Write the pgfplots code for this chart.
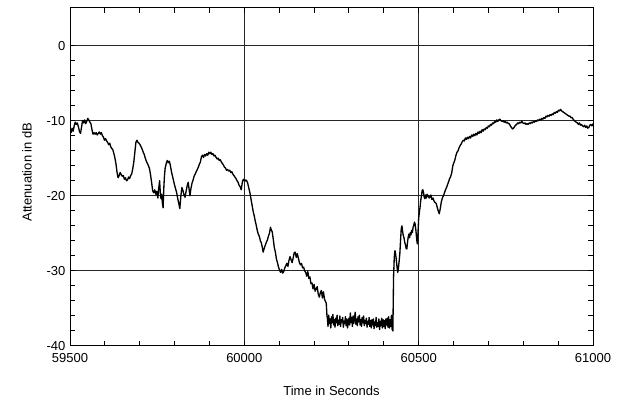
\documentclass[border=0pt]{standalone}
\usepackage{pgfplots}
\pgfplotsset{compat=1.18}
\usepackage{fontspec}
\setmainfont{Liberation Sans}
\begin{document}
\begin{tikzpicture}
\path[use as bounding box] (-52.5pt,-39pt) rectangle (415.5pt,259.5pt);
\begin{axis}[
  at={(0pt,0pt)}, anchor=south west,
  scale only axis, width=392.25pt, height=253.5pt,
  xmin=59500, xmax=61000, ymin=-40, ymax=5,
  scaled x ticks=false, scaled y ticks=false,
  xtick={59500,60000,60500,61000}, xticklabels={59500,60000,60500,61000},
  ytick={-40,-30,-20,-10,0}, yticklabels={-40,-30,-20,-10,0},
  minor xtick={59600,59700,59800,59900,60100,60200,60300,60400,60600,60700,60800,60900},
  minor ytick={-38,-36,-34,-32,-28,-26,-24,-22,-18,-16,-14,-12,-8,-6,-4,-2},
  tick align=inside,
  major tick length=3.75pt, minor tick length=3.75pt,
  grid=major,
  major grid style={black!85, line width=0.75pt},
  axis line style={black, line width=0.75pt},
  every tick/.style={black, line width=0.75pt},
  font=\fontsize{9.75}{11.7}\selectfont,
  tick label style={font=\fontsize{9.75}{11.7}\selectfont},
  label style={font=\fontsize{9.75}{11.7}\selectfont},
  xticklabel style={anchor=base, yshift=-12.5pt},
  yticklabel style={anchor=east},
  xlabel={Time in Seconds}, ylabel={Attenuation in dB},
  xlabel style={at={(axis description cs:0.5,-0.145)}, anchor=base},
  ylabel style={at={(axis description cs:-0.0733,0.515)}, anchor=base},
]
\addplot[black, line width=1pt, no marks, line join=round] coordinates {
(59500,-11.2) (59503,-11.6) (59506,-11.0) (59509,-11.4) (59512,-10.7) (59515,-10.2)
(59518,-10.5) (59521,-10.3) (59524,-10.8) (59527,-11.4) (59530,-11.7) (59533,-10.9)
(59536,-10.0) (59539,-10.3) (59542,-9.9) (59545,-10.4) (59548,-10.1) (59551,-9.7)
(59554,-9.9) (59557,-10.2) (59560,-10.4) (59563,-11.2) (59566,-11.8) (59569,-11.6)
(59572,-11.8) (59575,-11.6) (59578,-11.9) (59581,-11.7) (59584,-11.5) (59587,-11.8)
(59590,-11.6) (59593,-12.0) (59596,-12.2) (59599,-12.6) (59602,-12.4) (59605,-12.7)
(59608,-12.9) (59611,-13.2) (59614,-13.0) (59617,-13.5) (59620,-13.7) (59623,-13.9)
(59626,-14.4) (59629,-15.0) (59632,-15.8) (59635,-16.9) (59638,-17.6) (59641,-17.3)
(59644,-16.9) (59647,-17.2) (59650,-17.4) (59653,-17.3) (59656,-17.8) (59659,-17.6)
(59662,-18.0) (59665,-17.9) (59668,-17.5) (59671,-17.7) (59674,-17.3) (59677,-17.1)
(59680,-16.4) (59683,-15.5) (59686,-14.2) (59689,-12.9) (59692,-12.6) (59695,-12.9)
(59698,-13.0) (59701,-13.2) (59704,-13.5) (59707,-13.8) (59710,-14.2) (59713,-14.5)
(59716,-15.0) (59719,-15.4) (59722,-15.7) (59725,-16.0) (59728,-16.4) (59731,-17.2)
(59734,-18.2) (59737,-19.3) (59740,-19.6) (59743,-19.2) (59746,-19.8) (59749,-19.4)
(59752,-20.3) (59754,-19.2) (59757,-18.0) (59759,-19.6) (59761,-20.4) (59763,-19.8)
(59765,-21.0) (59767,-21.6) (59769,-19.0) (59771,-17.3) (59773,-16.3) (59776,-15.7)
(59779,-15.3) (59782,-15.6) (59785,-15.4) (59788,-16.0) (59791,-16.8) (59794,-17.4)
(59797,-18.0) (59800,-18.6) (59803,-19.1) (59806,-19.6) (59809,-20.4) (59812,-21.0)
(59815,-21.7) (59818,-20.0) (59821,-18.9) (59824,-19.3) (59827,-19.9) (59830,-20.2)
(59833,-19.4) (59836,-18.7) (59839,-18.2) (59842,-19.3) (59844,-20.0) (59847,-19.0)
(59850,-18.3) (59853,-17.9) (59856,-17.4) (59859,-17.1) (59862,-16.8) (59865,-16.5)
(59868,-16.2) (59871,-15.8) (59874,-15.5) (59877,-14.8) (59880,-14.6) (59883,-14.9)
(59886,-14.5) (59889,-14.7) (59892,-14.4) (59895,-14.6) (59898,-14.2) (59901,-14.4)
(59904,-14.2) (59907,-14.5) (59910,-14.4) (59913,-14.7) (59916,-14.6) (59919,-14.9)
(59922,-15.1) (59925,-15.0) (59928,-15.3) (59931,-15.2) (59934,-15.5) (59937,-15.7)
(59940,-15.9) (59943,-16.2) (59946,-16.3) (59949,-16.6) (59952,-16.5) (59955,-16.7)
(59958,-16.6) (59961,-16.9) (59964,-16.8) (59967,-17.1) (59970,-17.3) (59973,-17.5)
(59976,-17.7) (59979,-18.0) (59982,-18.2) (59985,-18.6) (59988,-18.8) (59991,-19.2)
(59993,-18.6) (59995,-18.0) (59998,-17.8) (60001,-18.1) (60004,-17.9) (60007,-18.0)
(60010,-18.4) (60013,-19.0) (60016,-19.6) (60019,-20.4) (60022,-21.2) (60025,-22.0)
(60028,-22.6) (60031,-23.3) (60034,-23.9) (60037,-24.6) (60040,-25.1) (60043,-25.4)
(60046,-26.0) (60049,-26.3) (60052,-27.0) (60054,-27.5) (60057,-27.0) (60060,-26.6)
(60063,-26.2) (60066,-25.9) (60069,-25.4) (60072,-25.0) (60075,-24.2) (60077,-24.5)
(60080,-24.8) (60083,-25.8) (60086,-26.9) (60089,-27.5) (60092,-28.4) (60095,-28.9)
(60098,-29.5) (60101,-29.9) (60104,-30.2) (60107,-29.8) (60110,-30.3) (60113,-30.1)
(60116,-29.6) (60119,-29.3) (60122,-29.0) (60125,-29.4) (60128,-28.6) (60131,-28.1)
(60134,-28.5) (60137,-28.9) (60140,-28.3) (60143,-27.6) (60146,-27.5) (60149,-28.2)
(60152,-27.7) (60155,-28.3) (60158,-28.9) (60161,-29.2) (60164,-29.0) (60167,-29.6)
(60170,-29.5) (60173,-30.0) (60176,-30.2) (60179,-30.7) (60182,-30.1) (60185,-31.0)
(60188,-30.8) (60191,-31.7) (60194,-31.6) (60197,-32.4) (60200,-31.8) (60203,-32.7)
(60206,-32.4) (60209,-32.1) (60212,-33.1) (60215,-33.5) (60218,-32.9) (60221,-32.6)
(60224,-33.6) (60227,-32.8) (60230,-33.8) (60233,-34.1) (60235,-34.3) (60237,-36.0)
(60238,-36.2) (60240,-37.4) (60242,-35.9) (60244,-37.0) (60246,-36.4) (60248,-37.6)
(60250,-36.1) (60252,-36.9) (60254,-35.8) (60256,-37.2) (60258,-36.5) (60260,-37.5)
(60262,-36.3) (60264,-36.9) (60266,-35.9) (60268,-37.3) (60270,-36.6) (60272,-37.1)
(60274,-36.0) (60276,-37.4) (60278,-36.5) (60280,-36.8) (60282,-36.2) (60284,-37.5)
(60286,-36.7) (60288,-37.0) (60290,-36.1) (60292,-37.3) (60294,-36.4) (60296,-37.6)
(60298,-36.8) (60300,-36.3) (60302,-37.2) (60304,-35.6) (60306,-36.9) (60308,-36.2)
(60310,-37.4) (60312,-36.0) (60314,-37.0) (60316,-36.3) (60318,-35.5) (60320,-37.1)
(60322,-36.4) (60324,-37.3) (60326,-36.1) (60328,-36.8) (60330,-35.9) (60332,-37.2)
(60334,-36.5) (60336,-37.4) (60338,-36.2) (60340,-36.9) (60342,-36.0) (60344,-37.3)
(60346,-36.6) (60348,-37.0) (60350,-36.3) (60352,-37.5) (60354,-36.7) (60356,-37.1)
(60358,-36.2) (60360,-37.4) (60362,-36.6) (60364,-37.6) (60366,-36.5) (60368,-37.2)
(60370,-36.4) (60372,-37.7) (60374,-36.8) (60376,-37.3) (60378,-36.2) (60380,-37.5)
(60382,-36.9) (60384,-37.4) (60386,-36.4) (60388,-37.8) (60390,-36.7) (60392,-37.3)
(60394,-36.3) (60396,-37.6) (60398,-36.5) (60400,-37.4) (60402,-36.6) (60404,-37.7)
(60406,-36.4) (60408,-37.2) (60410,-36.3) (60412,-37.5) (60414,-36.1) (60416,-37.6)
(60418,-36.5) (60420,-37.4) (60422,-35.9) (60424,-37.8) (60426,-38.0) (60427,-34.5)
(60428,-30.8) (60430,-28.2) (60432,-27.3) (60434,-27.8) (60436,-28.6) (60438,-29.5)
(60440,-30.2) (60442,-29.6) (60444,-28.7) (60446,-27.7) (60448,-26.0) (60450,-24.4)
(60452,-24.0) (60454,-24.8) (60456,-25.3) (60458,-25.6) (60460,-26.2) (60462,-26.5)
(60464,-27.0) (60466,-27.1) (60468,-26.2) (60470,-25.5) (60472,-25.1) (60474,-25.6)
(60476,-24.9) (60478,-25.2) (60480,-24.6) (60482,-24.9) (60484,-24.2) (60486,-23.9)
(60488,-23.5) (60490,-23.8) (60492,-24.6) (60494,-25.6) (60496,-26.4) (60498,-25.0)
(60500,-23.0) (60502,-22.2) (60504,-21.5) (60506,-20.6) (60508,-20.0) (60510,-19.3)
(60512,-19.2) (60514,-19.6) (60516,-20.2) (60518,-20.4) (60520,-19.9) (60522,-20.3)
(60524,-19.8) (60527,-20.0) (60530,-20.3) (60532,-20.2) (60535,-19.9) (60538,-20.5)
(60541,-20.3) (60544,-20.7) (60547,-20.9) (60550,-21.0) (60553,-21.5) (60556,-22.0)
(60559,-22.4) (60562,-21.7) (60565,-20.8) (60568,-20.3) (60571,-20.0) (60574,-19.6)
(60577,-19.2) (60580,-18.9) (60583,-18.5) (60586,-18.1) (60589,-17.7) (60592,-17.4)
(60595,-16.9) (60598,-16.0) (60601,-15.6) (60604,-15.2) (60607,-14.6) (60610,-14.2)
(60613,-14.0) (60616,-13.6) (60619,-13.3) (60622,-13.1) (60625,-12.8) (60628,-12.6)
(60631,-12.7) (60634,-12.3) (60637,-12.5) (60640,-12.2) (60643,-12.4) (60646,-12.1)
(60649,-12.3) (60652,-11.9) (60655,-12.1) (60658,-11.8) (60661,-12.0) (60664,-11.7)
(60667,-11.9) (60670,-11.5) (60673,-11.7) (60676,-11.4) (60679,-11.6) (60682,-11.2)
(60685,-11.4) (60688,-11.1) (60691,-11.2) (60694,-10.9) (60697,-11.0) (60700,-10.7)
(60703,-10.8) (60706,-10.5) (60709,-10.6) (60712,-10.3) (60715,-10.4) (60718,-10.1)
(60721,-10.2) (60724,-9.9) (60727,-10.1) (60730,-9.9) (60733,-9.8) (60736,-10.0)
(60739,-10.1) (60742,-10.0) (60745,-10.2) (60748,-10.1) (60751,-10.3) (60754,-10.2)
(60757,-10.4) (60760,-10.4) (60763,-10.7) (60766,-10.9) (60769,-11.1) (60772,-11.0)
(60775,-10.8) (60778,-10.6) (60781,-10.5) (60784,-10.3) (60787,-10.4) (60790,-10.2)
(60793,-10.3) (60796,-10.1) (60799,-10.3) (60802,-10.4) (60805,-10.3) (60808,-10.5)
(60811,-10.4) (60814,-10.5) (60817,-10.3) (60820,-10.4) (60823,-10.2) (60826,-10.3)
(60829,-10.1) (60832,-10.2) (60835,-10.0) (60838,-10.1) (60841,-9.9) (60844,-10.0)
(60847,-9.8) (60850,-9.9) (60853,-9.7) (60856,-9.8) (60859,-9.6) (60862,-9.7)
(60865,-9.4) (60868,-9.5) (60871,-9.3) (60874,-9.4) (60877,-9.2) (60880,-9.3)
(60883,-9.1) (60886,-9.2) (60889,-8.9) (60892,-9.0) (60895,-8.8) (60898,-8.9)
(60901,-8.6) (60904,-8.7) (60907,-8.5) (60910,-8.7) (60913,-8.8) (60916,-8.9)
(60919,-9.0) (60922,-9.1) (60925,-9.2) (60928,-9.3) (60931,-9.4) (60934,-9.4)
(60937,-9.6) (60940,-9.6) (60943,-9.8) (60946,-10.0) (60949,-10.1) (60952,-10.2)
(60955,-10.3) (60958,-10.5) (60961,-10.3) (60964,-10.6) (60967,-10.5) (60970,-10.7)
(60973,-10.8) (60976,-10.6) (60979,-10.9) (60982,-10.7) (60985,-11.0) (60988,-10.9)
(60991,-10.6) (60994,-10.5) (60997,-10.7) (61000,-10.4)
};
\end{axis}
\end{tikzpicture}
\end{document}
